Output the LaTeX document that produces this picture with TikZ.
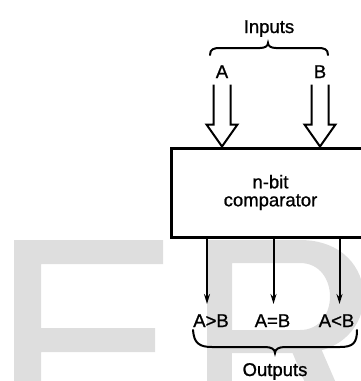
\documentclass[tikz,border=0pt]{standalone}
\usepackage{fontspec}
\setmainfont{Liberation Sans}
\newfontfamily\lblfont[FakeBold=1.0]{Liberation Sans}
\usetikzlibrary{arrows.meta}
\definecolor{wm}{RGB}{222,222,222}
\begin{document}
\begin{tikzpicture}[x=1pt,y=-1pt,
  lbl/.style={inner sep=0pt, anchor=base, font=\lblfont\fontsize{18.5}{20}\selectfont},
  boxst/.style={draw, line width=3pt, minimum width=199pt, minimum height=89pt,
    inner sep=0pt, align=center, font=\lblfont\fontsize{18.5}{18}\selectfont},
  hollow/.style={draw, line width=2pt, line join=miter},
  outarrow/.style={line width=2pt, -{Stealth[length=10pt,width=6pt]}},
  bracest/.style={line width=2pt, line cap=round}]
\useasboundingbox (0,0) rectangle (361,381);
\begin{scope}
\clip (0,0) rectangle (361,381);
% watermark letters
\fill[wm] (14,240) -- (163,240) -- (163,264) -- (41,264) -- (41,328) -- (155,328)
  -- (155,352) -- (41,352) -- (41,390) -- (14,390) -- cycle;
\fill[wm] (207,240) rectangle (232,390);
\fill[wm, even odd rule] (232,240) -- (300,240) .. controls (385,240) and (385,353) .. (300,353)
  -- (232,353) -- cycle
  (232,263) -- (300,263) .. controls (340,263) and (340,330) .. (300,330) -- (232,330) -- cycle;
\fill[wm] (283,330) -- (313,330) -- (339,390) -- (308,390) -- cycle;
% comparator box
\node[boxst] (cmp) at (270.5,192.5) {n-bit\\comparator};
\end{scope}
% inputs
\node[lbl] (inl) at (269,33) {Inputs};
\node[lbl] (la) at (222,78) {A};
\node[lbl] (lb) at (320,78) {B};
\draw[bracest] (210,55) .. controls (210,49) and (214,48) .. (220,48) -- (260,48)
  .. controls (265,48) and (268,46) .. (268,43) .. controls (268,46) and (271,48) .. (276,48)
  -- (318,48) .. controls (324,48) and (328,49) .. (328,55);
\coordinate (ta) at (cmp.north -| la);
\coordinate (tb) at (cmp.north -| lb);
\draw[hollow] (ta) ++(-8.5,-62) -- ++(0,40) -- ++(-7,0) -- (ta) -- ++(15.5,-22) -- ++(-7,0) -- ++(0,-40);
\draw[hollow] (tb) ++(-8.5,-62) -- ++(0,40) -- ++(-7,0) -- (tb) -- ++(15.5,-22) -- ++(-7,0) -- ++(0,-40);
% outputs
\coordinate (o1) at (207,304);
\coordinate (o2) at (273.5,304);
\coordinate (o3) at (339.5,304);
\draw[outarrow] (cmp.south -| o1) -- (o1);
\draw[outarrow] (cmp.south -| o2) -- (o2);
\draw[outarrow] (cmp.south -| o3) -- (o3);
\node[lbl] (gt) at (211,327) {A>B};
\node[lbl] (eq) at (272.5,327) {A=B};
\node[lbl] (lt) at (336.5,327) {A<B};
\draw[bracest] (193,330) .. controls (194,343) and (199,347) .. (212,347) -- (265,347)
  .. controls (271,347) and (275,349) .. (275,353) .. controls (275,349) and (279,347) .. (285,347)
  -- (340,347) .. controls (353,347) and (357,343) .. (357,330);
\node[lbl] (outl) at (275,376) {Outputs};
\end{tikzpicture}
\end{document}
